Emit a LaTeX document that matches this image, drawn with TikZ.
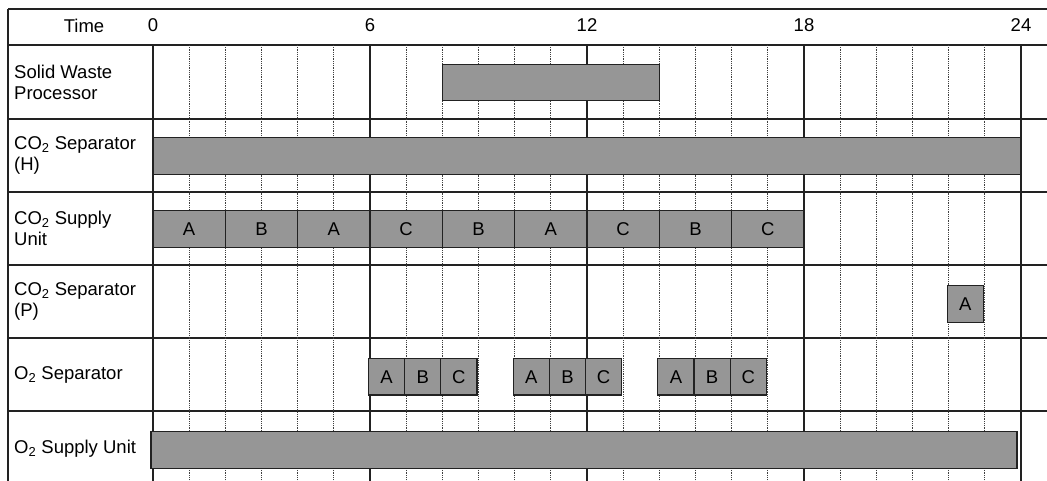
\documentclass[tikz,border=0pt]{standalone}
\usepackage{fontspec}
\setmainfont{Liberation Sans}
\definecolor{barfill}{HTML}{969696}
\definecolor{lineclr}{HTML}{222222}
\begin{document}
\begin{tikzpicture}[x=1pt,y=-1pt,
  gridline/.style={line width=1.3pt, draw=lineclr},
  dotline/.style={line width=0.7pt, draw=black!75, dash pattern=on 0.9pt off 0.9pt},
  bar/.style={draw=lineclr, line width=1.3pt, fill=barfill, inner sep=0pt, outer sep=0pt,
    minimum height=36.5pt, anchor=west, font=\fontsize{18.5}{21}\selectfont},
  lbl/.style={anchor=west, align=left, inner sep=0pt, font=\fontsize{18.5}{21}\selectfont},
  hdr/.style={inner sep=0pt, font=\fontsize{18.5}{21}\selectfont}]
\def\hr{36.1667}
\useasboundingbox (0,0) rectangle (1047,481);
% horizontal lines
\foreach \yy in {9,45,119,192,265,338,411}
  \draw[gridline] (8,\yy) -- (1047,\yy);
% left border
\draw[gridline] (8,9) -- (8,481);
% hour lines
\foreach \h in {1,...,23}{
  \pgfmathtruncatemacro{\m}{mod(\h,6)}
  \ifnum\m=0
    \draw[gridline] ({153+\h*\hr},45) -- ({153+\h*\hr},481);
  \else
    \draw[dotline] ({153+\h*\hr},45) -- ({153+\h*\hr},481);
  \fi
}
\draw[gridline] (153,45) -- (153,481);
\draw[gridline] ({153+24*\hr},45) -- ({153+24*\hr},481);
% header
\node[hdr] (time) at (84,25.5) {Time};
\foreach \h in {0,6,12,18,24}
  \node[hdr] (t\h) at ({153+\h*\hr},25.5) {\h};
% row labels
\node[lbl] (l1) at (14,82.5) {Solid Waste\\Processor};
\node[lbl] (l2) at (14,155.5) {CO\textsubscript{2} Separator\\(H)};
\node[lbl] (l3) at (14,228.5) {CO\textsubscript{2} Supply\\Unit};
\node[lbl] (l4) at (14,301.5) {CO\textsubscript{2} Separator\\(P)};
\node[lbl] (l5) at (14,375) {O\textsubscript{2} Separator};
\node[lbl] (l6) at (14,448.5) {O\textsubscript{2} Supply Unit};
% bars
\node[bar, minimum width={6*\hr pt}] (swp) at ({153+8*\hr},82.5) {};
\node[bar, minimum width={24*\hr pt}] (csh) at (153,156) {};
\foreach \i/\l in {0/A,1/B,2/A,3/C,4/B,5/A,6/C,7/B,8/C}
  \node[bar, minimum width={2*\hr pt}] (csu\i) at ({153+2*\i*\hr},229) {\l};
\node[bar, minimum width={\hr pt}] (csp) at ({153+22*\hr-1.5},304) {A};
\foreach \s in {6,10,14}{
  \node[bar, minimum width={\hr pt}] (osa\s) at ({153+\s*\hr-1.5},376.7) {A};
  \node[bar, minimum width={\hr pt}] (osb\s) at ({153+(\s+1)*\hr-1.5},376.7) {B};
  \node[bar, minimum width={\hr pt}] (osc\s) at ({153+(\s+2)*\hr-1.5},376.7) {C};
}
\node[bar, minimum width={24*\hr pt-2pt}] (osu) at (151,450) {};
\end{tikzpicture}
\end{document}
